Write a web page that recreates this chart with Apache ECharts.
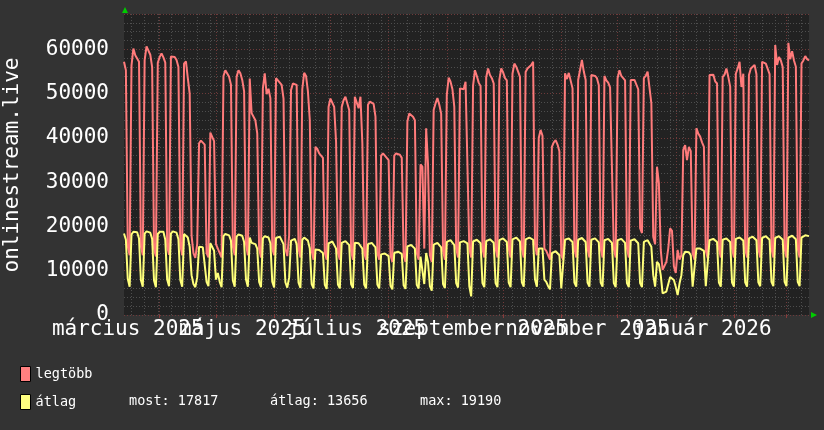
<!DOCTYPE html>
<html><head><meta charset="utf-8">
<script src="https://cdn.jsdelivr.net/npm/echarts@6/dist/echarts.min.js"></script>
<style>html,body{margin:0;padding:0;background:#333333;}#c{width:824px;height:430px;}</style>
</head><body><div id="c"></div>
<script>
// ---- data ----
const startDate = '2025-03-13';
const dayCount = 366;
const monthNames = ['január','február','március','április','május','június','július','augusztus','szeptember','október','november','december'];
const labelMonthsA = [2, 6, 10];   // március, július, november
const labelMonthsB = [4, 8, 0];    // május, szeptember, január
const seriesNames = ['legtöbb', 'átlag'];
const statLabels = ['most: 17817', 'átlag: 13656', 'max: 19190'];
const yTitle = 'onlinestream.live';

// daily maximum (Thu 13 Mar 2025 .. Fri 13 Mar 2026), grouped Mon..Sun
const maxValues = [
  57200, 55300, 15500, 13500,
  56400, 60200, 58700, 59100, 57200, 15500, 13500,
  57600, 60700, 60300, 58800, 56000, 15000, 13200,
  57000, 58300, 59100, 58200, 57000, 15500, 13600,
  58400, 58400, 58300, 57600, 56000, 15800, 13500,
  56800, 57300, 53500, 50000, 18000, 14000, 12900,
  16000, 38800, 39400, 39300, 38500, 14000, 13000,
  41200, 41000, 39300, 16000, 15000, 14000, 13000,
  54000, 55300, 55000, 53800, 52000, 15500, 13500,
  53800, 55300, 54600, 53100, 50500, 16000, 13500,
  53400, 45600, 45400, 44000, 41000, 15000, 13000,
  51200, 54600, 49900, 51100, 49000, 15000, 13500,
  53500, 53000, 53200, 52000, 48900, 15000, 13300,
  18000, 50800, 52300, 52300, 52000, 15000, 13000,
  51000, 54700, 54000, 50500, 44000, 14500, 12500,
  38000, 37500, 36500, 36000, 35500, 14000, 12500,
  47000, 48900, 48800, 47000, 39100, 14000, 12500,
  47000, 48500, 49300, 47800, 46300, 14500, 12500,
  49300, 49700, 46700, 49300, 38800, 14000, 12500,
  47500, 48200, 48000, 47700, 44800, 14000, 12500,
  36000, 36500, 36000, 35500, 35000, 13500, 12000,
  36000, 36500, 36500, 36200, 35500, 13500, 12000,
  43700, 45500, 45400, 44800, 44000, 14000, 12500,
  34000, 33500, 15000, 42200, 34000, 13500, 12000,
  46300, 47800, 49000, 47500, 45500, 14500, 12500,
  49700, 53600, 52700, 51000, 47000, 15000, 13000,
  51200, 51400, 51000, 52700, 53100, 15000, 13000,
  51800, 55300, 54000, 52500, 51700, 15000, 13000,
  53700, 55700, 54200, 53500, 52300, 15000, 13000,
  53100, 55700, 54800, 53500, 53000, 15000, 13000,
  54500, 56800, 56100, 55000, 53800, 15000, 13000,
  54900, 55700, 55500, 56500, 57200, 16000, 13500,
  40000, 41800, 40500, 15000, 14500, 13500, 12500,
  38000, 39000, 39500, 38500, 37000, 13500, 12500,
  54600, 53300, 54700, 54900, 51200, 15000, 13000,
  53100, 53500, 57600, 55000, 53100, 15000, 13000,
  54200, 54400, 54000, 53500, 51900, 15000, 13000,
  54000, 53000, 52500, 51400, 51200, 15000, 13000,
  53500, 55300, 54000, 53500, 53000, 15000, 13000,
  53100, 53100, 53100, 53500, 51000, 19600, 18500,
  53500, 54000, 55000, 55200, 47800, 17700, 16000,
  33500, 29800, 14700, 10200, 10200, 12000, 15000,
  19600, 19000, 11000, 9500, 14700, 12500, 13500,
  37300, 38400, 35000, 38000, 37000, 14000, 12500,
  42200, 41000, 40300, 39000, 38000, 14500, 12800,
  54200, 54600, 54300, 52800, 52300, 15000, 13000,
  53800, 54300, 55700, 53800, 51600, 15000, 13000,
  54500, 55700, 57200, 51500, 54500, 15000, 13000,
  54200, 55700, 56100, 56500, 54400, 15000, 13000,
  57200, 57000, 56800, 56500, 54400, 15000, 13000,
  61000, 56500, 58300, 57500, 56000, 15000, 13000,
  61500, 57800, 59600, 57500, 56100, 15000, 13000,
  56800, 57500, 58500, 57800, 57500
];

// daily average
const avgValues = [
  18400, 17000, 8200, 6400,
  18200, 18800, 18900, 18700, 17300, 7900, 6400,
  18400, 18900, 19000, 18600, 17200, 7800, 6300,
  18300, 18800, 19190, 18800, 17000, 8000, 6500,
  18400, 18900, 18900, 18600, 17100, 7900, 6400,
  18300, 18600, 17500, 15400, 9000, 7000, 6300,
  8500, 15400, 15500, 15300, 15000, 7500, 6500,
  16200, 16000, 14500, 8000, 9500, 7500, 6300,
  17800, 18300, 18300, 18000, 16800, 7800, 6400,
  17700, 18200, 18200, 17900, 16500, 8000, 6400,
  17500, 16300, 16200, 16000, 15000, 7500, 6300,
  17300, 17800, 17600, 17500, 16200, 7500, 6200,
  17400, 17700, 17700, 17400, 16000, 7400, 6200,
  8500, 16800, 17200, 17200, 16000, 7300, 6100,
  17000, 17500, 17400, 16800, 15000, 7000, 6000,
  14800, 14800, 14700, 14600, 14000, 6800, 5900,
  16200, 16600, 16600, 16400, 15000, 6900, 6000,
  16300, 16700, 16700, 16500, 15800, 7000, 6100,
  16300, 16400, 16200, 16300, 15000, 6900, 6000,
  16000, 16300, 16300, 16200, 15300, 6900, 6000,
  13700, 13900, 13900, 13800, 13300, 6600, 5800,
  14000, 14300, 14300, 14200, 13800, 6700, 5900,
  15500, 15800, 15800, 15600, 15000, 6800, 6000,
  13200, 13000, 7000, 14000, 12000, 6500, 5500,
  15900, 16200, 16300, 16100, 15300, 7000, 6100,
  16500, 16900, 16900, 16700, 15800, 7200, 6200,
  16400, 16700, 16700, 16600, 16200, 6500, 4200,
  16600, 17000, 17000, 16800, 16200, 7200, 6300,
  16700, 17100, 17100, 16900, 16300, 7200, 6300,
  16900, 17300, 17300, 17100, 16500, 7300, 6300,
  17100, 17500, 17500, 17300, 16600, 7400, 6400,
  17100, 17500, 17500, 17500, 17000, 8000, 6400,
  15000, 15300, 15000, 8000, 7500, 6500, 5800,
  14000, 14300, 14400, 14200, 13500, 6000, 5800,
  17000, 17300, 17300, 17200, 16500, 7300, 6400,
  17000, 17300, 17400, 17200, 16500, 7300, 6400,
  17000, 17300, 17300, 17100, 16400, 7300, 6400,
  16900, 17200, 17200, 17000, 16300, 7200, 6300,
  16900, 17200, 17200, 17000, 16300, 7200, 6300,
  16800, 17100, 17100, 16900, 16200, 7200, 6300,
  16500, 16900, 16900, 16800, 15400, 9000, 6400,
  12000, 11500, 9000, 4900, 5000, 5300, 5200,
  8600, 8600, 7900, 6400, 4500, 7100, 9000,
  13500, 14300, 14300, 14200, 13500, 6400, 6300,
  15000, 15000, 15000, 14900, 14500, 6500, 6300,
  16900, 17200, 17200, 17000, 16500, 7300, 6400,
  17000, 17300, 17300, 17100, 16500, 7300, 6400,
  17200, 17500, 17500, 17300, 16800, 7400, 6400,
  17300, 17600, 17700, 17500, 16900, 7400, 6500,
  17400, 17700, 17800, 17600, 17000, 7500, 6500,
  17400, 17800, 17800, 17600, 17000, 7500, 6500,
  17500, 17900, 17900, 17700, 17100, 7500, 6500,
  17500, 17900, 18000, 17900, 17817
];

// ---- categories (dates) ----
const categories = [];
{
  const t0 = Date.parse(startDate + 'T00:00:00Z');
  for (let i = 0; i < dayCount; i++) {
    categories.push(new Date(t0 + i * 86400000).toISOString().slice(0, 10));
  }
}
const parse = v => new Date(v + 'T00:00:00Z');
const isMonday = (i, v) => parse(v).getUTCDay() === 1;
const isMonthStart = (i, v) => parse(v).getUTCDate() === 1;
const labelDayIn = months => (i, v) => { const d = parse(v); return d.getUTCDate() === 15 && months.indexOf(d.getUTCMonth()) >= 0; };
const fmtMonth = v => { const d = parse(v); return monthNames[d.getUTCMonth()] + ' ' + d.getUTCFullYear(); };

const FONT = 'DejaVu Sans Mono';
const minorColor = '#4e4e4e';
const majorColor = '#6e3a3a';
const red = '#ff7b7b';
const yellow = '#ffff7b';

const labelStyle = (months) => ({
  show: true, interval: labelDayIn(months), color: '#ffffff', fontFamily: FONT, fontSize: 21, margin: 4,
  hideOverlap: false, showMinLabel: true, showMaxLabel: true, formatter: fmtMonth
});

const chart = echarts.init(document.getElementById('c'), null, {renderer: 'canvas'});
chart.setOption({
  backgroundColor: '#333333',
  animation: false,
  grid: {left: 124, right: 15, top: 14, bottom: 115, show: true, backgroundColor: '#222222', borderWidth: 0},
  xAxis: [
    {
      type: 'category', data: categories, boundaryGap: false, position: 'top',
      axisLine: {show: false}, axisTick: {show: false}, axisLabel: {show: false},
      splitLine: {show: true, interval: isMonday, lineStyle: {color: minorColor, type: [1, 2], width: 1}}
    },
    {
      type: 'category', data: categories, boundaryGap: false, position: 'bottom',
      axisLine: {show: false},
      axisTick: {show: true, interval: isMonthStart, length: 3, lineStyle: {color: '#8a3c3c'}},
      axisLabel: labelStyle(labelMonthsA),
      splitLine: {show: true, interval: isMonthStart, lineStyle: {color: majorColor, type: [1, 2], width: 1}}
    },
    {
      type: 'category', data: categories, boundaryGap: false, position: 'bottom', offset: 0,
      axisLine: {show: false}, axisTick: {show: false},
      axisLabel: labelStyle(labelMonthsB),
      splitLine: {show: false}
    }
  ],
  yAxis: {
    type: 'value', min: 0, max: 68000, interval: 10000,
    axisLine: {show: false}, axisTick: {show: false},
    axisLabel: {color: '#ffffff', fontFamily: FONT, fontSize: 21, margin: 15, showMaxLabel: false, showMinLabel: true,
                formatter: v => String(v)},
    splitLine: {show: true, lineStyle: {color: majorColor, type: [1, 2], width: 1}},
    minorTick: {show: false, splitNumber: 5},
    minorSplitLine: {show: true, lineStyle: {color: minorColor, type: [1, 2], width: 1}}
  },
  legend: {
    show: true, orient: 'vertical', left: 20, top: 366, padding: 0, itemWidth: 10, itemHeight: 15, itemGap: 12,
    icon: 'rect', selectedMode: false,
    textStyle: {color: '#ffffff', fontFamily: FONT, fontSize: 13.5},
    itemStyle: {borderColor: '#000000', borderWidth: 1},
    data: [
      {name: seriesNames[0], itemStyle: {color: '#ff8080', borderColor: '#000', borderWidth: 1}},
      {name: seriesNames[1], itemStyle: {color: '#ffff80', borderColor: '#000', borderWidth: 1}}
    ]
  },
  series: [
    {name: seriesNames[0], type: 'line', xAxisIndex: 1, data: maxValues, symbol: 'none', showSymbol: false,
     lineStyle: {color: red, width: 2}, itemStyle: {color: '#ff8080'}},
    {name: seriesNames[1], type: 'line', xAxisIndex: 1, data: avgValues, symbol: 'none', showSymbol: false,
     lineStyle: {color: yellow, width: 2}, itemStyle: {color: '#ffff80'}}
  ],
  graphic: [
    {type: 'text', x: 13, y: 165, rotation: Math.PI / 2,
     style: {text: yTitle, fill: '#ffffff', font: '21px "' + FONT + '"', align: 'center', verticalAlign: 'middle', textAlign: 'center', textVerticalAlign: 'middle'}},
    {type: 'text', x: 129, y: 401, style: {text: statLabels[0], fill: '#ffffff', font: '13.5px "' + FONT + '"', verticalAlign: 'middle', textVerticalAlign: 'middle'}},
    {type: 'text', x: 270, y: 401, style: {text: statLabels[1], fill: '#ffffff', font: '13.5px "' + FONT + '"', verticalAlign: 'middle', textVerticalAlign: 'middle'}},
    {type: 'text', x: 420, y: 401, style: {text: statLabels[2], fill: '#ffffff', font: '13.5px "' + FONT + '"', verticalAlign: 'middle', textVerticalAlign: 'middle'}},
    {type: 'polygon', shape: {points: [[122, 13], [128, 13], [125, 7]]}, style: {fill: '#00cc00'}},
    {type: 'polygon', shape: {points: [[811, 312], [811, 318], [817, 315]]}, style: {fill: '#00cc00'}}
  ]
});
</script></body></html>
